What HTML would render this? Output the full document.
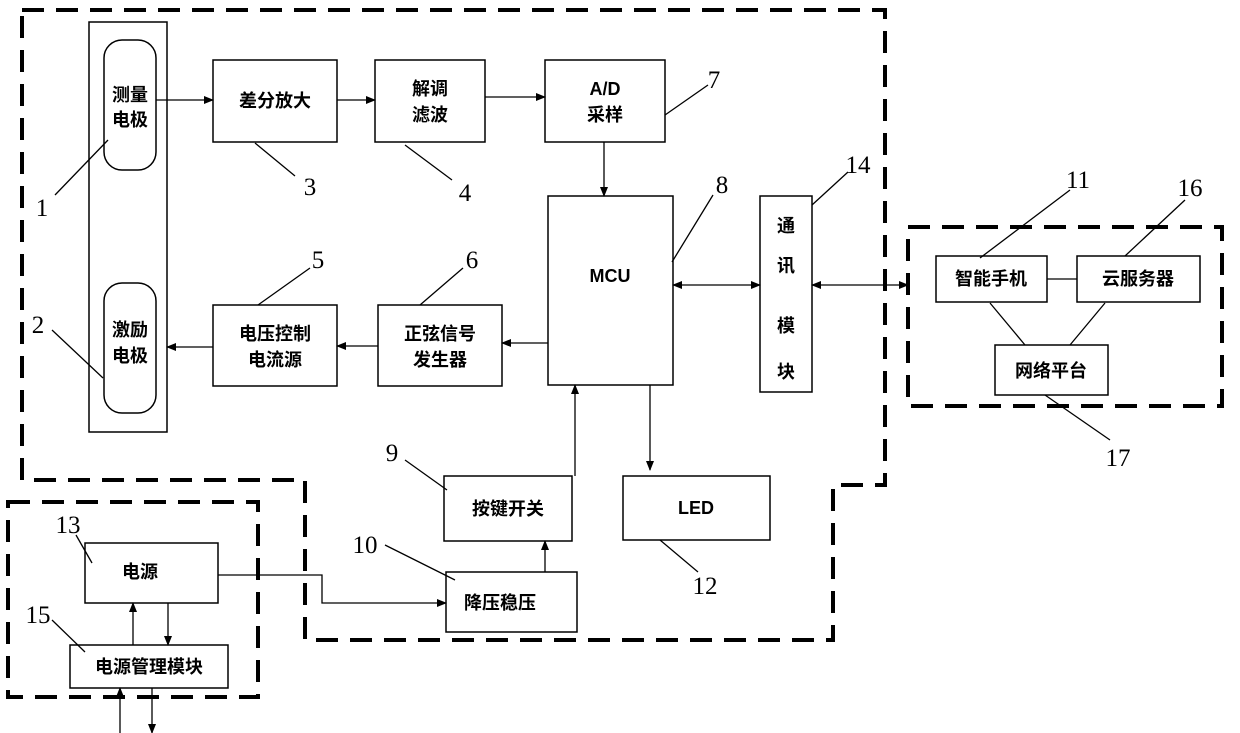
<!DOCTYPE html>
<html><head><meta charset="utf-8"><style>
html,body{margin:0;padding:0;background:#fff}
svg{display:block}
.b{fill:#fff;stroke:#000;stroke-width:1.5}
.t{font-family:"Liberation Sans","Noto Sans CJK SC",sans-serif;font-weight:bold;font-size:18px;text-anchor:middle;fill:#000}
.n{font-family:"Liberation Serif",serif;font-size:25px;text-anchor:middle;fill:#000}
.d{fill:none;stroke:#000;stroke-width:4;stroke-dasharray:22 12}
.l{stroke:#000;stroke-width:1.3;fill:none}
</style></head><body>
<svg width="1240" height="733" viewBox="0 0 1240 733" xmlns="http://www.w3.org/2000/svg">
<defs><marker id="a" markerWidth="10" markerHeight="8" refX="9" refY="4" orient="auto" markerUnits="userSpaceOnUse"><path d="M0,0 L10,4 L0,8z" fill="#000"/></marker>
<marker id="s" markerWidth="10" markerHeight="8" refX="1" refY="4" orient="auto" markerUnits="userSpaceOnUse"><path d="M10,0 L0,4 L10,8z" fill="#000"/></marker></defs>
<path class="d" d="M22,10 H885 V485 H833 V640 H305 V480 H22 Z"/>
<rect class="d" x="8" y="502" width="250" height="195"/>
<rect class="d" x="908" y="227" width="314" height="179"/>
<rect class="b" x="89" y="22" width="78" height="410"/>
<rect class="b" x="104" y="40" width="52" height="130" rx="18"/>
<rect class="b" x="104" y="283" width="52" height="130" rx="18"/>
<text class="t" x="130" y="101">测量</text><text class="t" x="130" y="126">电极</text>
<text class="t" x="130" y="336">激励</text><text class="t" x="130" y="362">电极</text>
<rect class="b" x="213" y="60" width="124" height="82"/><text class="t" x="275" y="107">差分放大</text>
<rect class="b" x="375" y="60" width="110" height="82"/><text class="t" x="430" y="95">解调</text><text class="t" x="430" y="121">滤波</text>
<rect class="b" x="545" y="60" width="120" height="82"/><text class="t" x="605" y="95">A/D</text><text class="t" x="605" y="121">采样</text>
<rect class="b" x="548" y="196" width="125" height="189"/><text class="t" x="610" y="282">MCU</text>
<rect class="b" x="760" y="196" width="52" height="196"/>
<text class="t" x="786" y="232">通</text><text class="t" x="786" y="272">讯</text><text class="t" x="786" y="332">模</text><text class="t" x="786" y="378">块</text>
<rect class="b" x="213" y="305" width="124" height="81"/><text class="t" x="275" y="340">电压控制</text><text class="t" x="275" y="366">电流源</text>
<rect class="b" x="378" y="305" width="124" height="81"/><text class="t" x="440" y="340">正弦信号</text><text class="t" x="440" y="366">发生器</text>
<rect class="b" x="444" y="476" width="128" height="65"/><text class="t" x="508" y="515">按键开关</text>
<rect class="b" x="623" y="476" width="147" height="64"/><text class="t" x="696" y="514">LED</text>
<rect class="b" x="446" y="572" width="131" height="60"/><text class="t" x="500" y="609">降压稳压</text>
<rect class="b" x="85" y="543" width="133" height="60"/><text class="t" x="140" y="578">电源</text>
<rect class="b" x="70" y="645" width="158" height="43"/><text class="t" x="149" y="673">电源管理模块</text>
<rect class="b" x="936" y="256" width="111" height="46"/><text class="t" x="991" y="285">智能手机</text>
<rect class="b" x="1077" y="256" width="123" height="46"/><text class="t" x="1138" y="285">云服务器</text>
<rect class="b" x="995" y="345" width="113" height="50"/><text class="t" x="1051" y="377">网络平台</text>
<g class="l">
<line x1="156" y1="100" x2="213" y2="100" marker-end="url(#a)"/>
<line x1="337" y1="100" x2="375" y2="100" marker-end="url(#a)"/>
<line x1="485" y1="97" x2="545" y2="97" marker-end="url(#a)"/>
<line x1="604" y1="142" x2="604" y2="196" marker-end="url(#a)"/>
<line x1="673" y1="285" x2="760" y2="285" marker-start="url(#s)" marker-end="url(#a)"/>
<line x1="812" y1="285" x2="908" y2="285" marker-start="url(#s)" marker-end="url(#a)"/>
<line x1="548" y1="343" x2="502" y2="343" marker-end="url(#a)"/>
<line x1="378" y1="346" x2="337" y2="346" marker-end="url(#a)"/>
<line x1="213" y1="347" x2="167" y2="347" marker-end="url(#a)"/>
<line x1="650" y1="385" x2="650" y2="470" marker-end="url(#a)"/>
<line x1="575" y1="476" x2="575" y2="385" marker-end="url(#a)"/>
<line x1="545" y1="572" x2="545" y2="541" marker-end="url(#a)"/>
<polyline points="218,575 322,575 322,603 446,603" marker-end="url(#a)"/>
<line x1="133" y1="645" x2="133" y2="603" marker-end="url(#a)"/>
<line x1="168" y1="603" x2="168" y2="645" marker-end="url(#a)"/>
<line x1="120" y1="733" x2="120" y2="688" marker-end="url(#a)"/>
<line x1="152" y1="688" x2="152" y2="733" marker-end="url(#a)"/>
<line x1="1047" y1="279" x2="1077" y2="279"/>
<line x1="990" y1="303" x2="1025" y2="345"/><line x1="1105" y1="303" x2="1070" y2="345"/>
<line x1="55" y1="195" x2="108" y2="140"/><line x1="52" y1="330" x2="103" y2="378"/>
<line x1="255" y1="143" x2="295" y2="176"/><line x1="405" y1="145" x2="452" y2="180"/>
<line x1="258" y1="305" x2="310" y2="268"/><line x1="420" y1="305" x2="463" y2="268"/>
<line x1="665" y1="115" x2="708" y2="85"/><line x1="672" y1="262" x2="713" y2="195"/>
<line x1="405" y1="460" x2="447" y2="490"/><line x1="385" y1="545" x2="455" y2="580"/>
<line x1="980" y1="258" x2="1070" y2="190"/><line x1="660" y1="540" x2="698" y2="572"/>
<line x1="76" y1="535" x2="92" y2="563"/><line x1="812" y1="205" x2="848" y2="172"/>
<line x1="52" y1="620" x2="85" y2="652"/><line x1="1125" y1="256" x2="1185" y2="200"/>
<line x1="1045" y1="395" x2="1110" y2="440"/>
</g>
<text class="n" x="42" y="216">1</text><text class="n" x="38" y="333">2</text>
<text class="n" x="310" y="195">3</text><text class="n" x="465" y="201">4</text>
<text class="n" x="318" y="268">5</text><text class="n" x="472" y="268">6</text>
<text class="n" x="714" y="88">7</text><text class="n" x="722" y="193">8</text>
<text class="n" x="392" y="461">9</text><text class="n" x="365" y="553">10</text>
<text class="n" x="1078" y="188">11</text><text class="n" x="705" y="594">12</text>
<text class="n" x="68" y="533">13</text><text class="n" x="858" y="173">14</text>
<text class="n" x="38" y="623">15</text><text class="n" x="1190" y="196">16</text>
<text class="n" x="1118" y="466">17</text>
</svg>
</body></html>
